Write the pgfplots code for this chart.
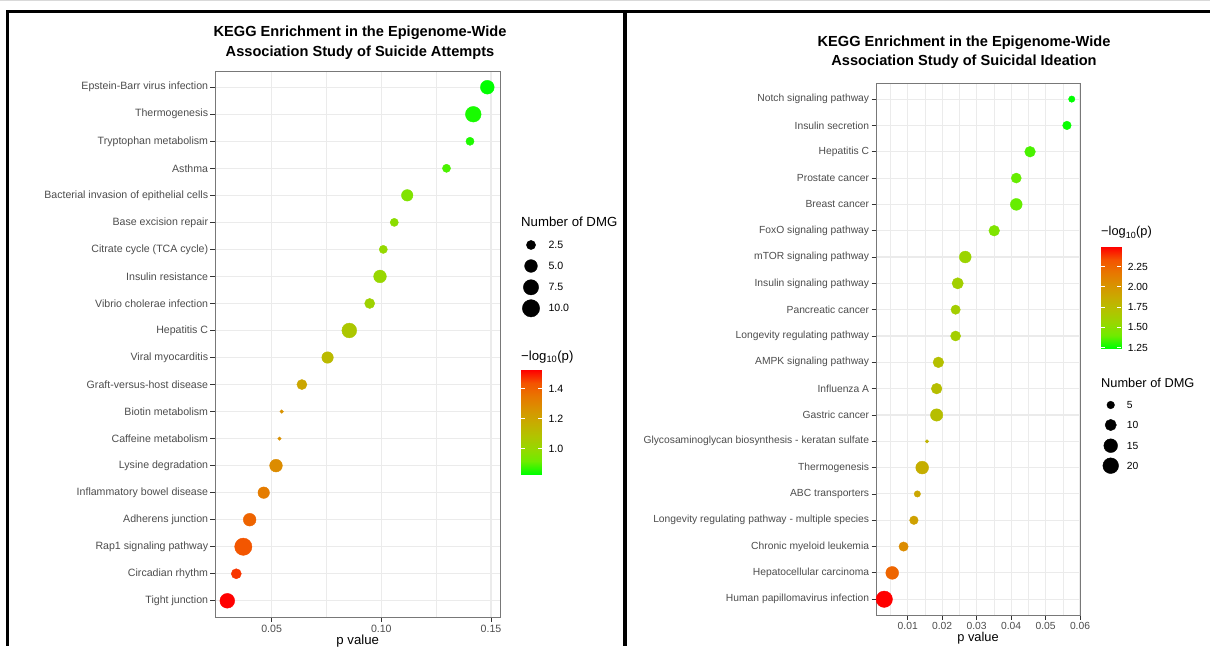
\documentclass[border=0pt]{standalone}
\usepackage{pgfplots}
\pgfplotsset{compat=1.18}
\usepackage{pgfplotstable}
\usepackage{fontspec}
\setmainfont{Liberation Sans}

\definecolor{grey92}{RGB}{235,235,235}
\definecolor{grey20}{RGB}{51,51,51}
\definecolor{grey30}{RGB}{77,77,77}
\definecolor{panelborder}{RGB}{120,120,120}

\pgfplotsset{
  colormap={ggr}{rgb255(0pt)=(0,255,0); rgb255(1pt)=(112,235,0); rgb255(2pt)=(152,215,0); rgb255(3pt)=(179,194,0); rgb255(4pt)=(200,171,0); rgb255(5pt)=(217,146,0); rgb255(6pt)=(232,118,0); rgb255(7pt)=(244,83,0); rgb255(8pt)=(255,0,0)},
  kegg/.style={
    scale only axis,
    y dir=reverse,
    ymin=0.4, ymax=20.6,
    ytick={1,...,20},
    axis line style={draw=panelborder, line width=0.8pt},
    tick style={grey20, line width=0.8pt},
    major tick length=4.5pt,
    minor tick length=0pt,
    tick align=outside,
    xtick pos=bottom, ytick pos=left,
    xmajorgrids, ymajorgrids, xminorgrids,
    major grid style={grey92, line width=1.1pt},
    minor grid style={grey92, line width=0.55pt},
    colormap name=ggr,
    scaled x ticks=false,
    /pgf/number format/assume math mode=true,
    xticklabel style={/pgf/number format/fixed, /pgf/number format/fixed zerofill, /pgf/number format/precision=2, text=grey30, anchor=base, inner sep=0pt},
    yticklabel style={text=grey30, anchor=east, inner sep=0pt},
  },
  cbar/.style={
    scale only axis,
    anchor=south west,
    axis line style={draw=none},
    xmin=0, xmax=1, xtick=\empty,
    yticklabel pos=right,
    ytick pos=both,
    tick align=inside,
    major tick length=4pt,
    tick style={white, line width=0.8pt},
    axis on top,
    colormap name=ggr,
    /pgf/number format/assume math mode=true,
    yticklabel style={text=black, anchor=west, inner sep=0pt, xshift=6.6pt, /pgf/number format/fixed, /pgf/number format/fixed zerofill},
  },
}

\pgfplotstableread[col sep=comma]{
name,p,n
Epstein-Barr virus infection,0.1483,6
Thermogenesis,0.1419,8
Tryptophan metabolism,0.1404,2
Asthma,0.1297,2
Bacterial invasion of epithelial cells,0.1118,4
Base excision repair,0.1059,2
Citrate cycle (TCA cycle),0.1009,2
Insulin resistance,0.0994,5
Vibrio cholerae infection,0.0947,3
Hepatitis C,0.0854,7
Viral myocarditis,0.0755,4
Graft-versus-host disease,0.0638,3
Biotin metabolism,0.0546,1
Caffeine metabolism,0.0536,1
Lysine degradation,0.0520,5
Inflammatory bowel disease,0.0464,4
Adherens junction,0.0400,5
Rap1 signaling pathway,0.0371,10
Circadian rhythm,0.0339,3
Tight junction,0.0298,7
}\leftdata

\pgfplotstableread[col sep=comma]{
name,p,n
Notch signaling pathway,0.0576,4
Insulin secretion,0.0562,6
Hepatitis C,0.0455,9
Prostate cancer,0.0415,8
Breast cancer,0.0415,11
FoxO signaling pathway,0.0351,9
mTOR signaling pathway,0.0267,11
Insulin signaling pathway,0.0245,10
Pancreatic cancer,0.0239,7
Longevity regulating pathway,0.0239,8
AMPK signaling pathway,0.0189,9
Influenza A,0.0184,9
Gastric cancer,0.0184,12
Glycosaminoglycan biosynthesis - keratan sulfate,0.0156,3
Thermogenesis,0.0142,13
ABC transporters,0.0128,4
Longevity regulating pathway - multiple species,0.0118,6
Chronic myeloid leukemia,0.0088,7
Hepatocellular carcinoma,0.0055,13
Human papillomavirus infection,0.0032,22
}\rightdata

\begin{document}
\begin{tikzpicture}
\useasboundingbox (0pt,0pt) rectangle (1210pt,646pt);
\clip (0pt,0pt) rectangle (1210pt,646pt);
\fill[white] (0pt,0pt) rectangle (1210pt,646pt);
% frame
\fill[gray!30] (0pt,644.5pt) rectangle (1210pt,646pt);
\fill[black] (6pt,633pt) rectangle (1210pt,636pt);
\fill[black] (6pt,0pt) rectangle (9pt,636pt);
\fill[black] (623.3pt,0pt) rectangle (627.3pt,636pt);

% ---------------- left panel ----------------
\begin{axis}[kegg,
  at={(215pt,29pt)}, anchor=south west,
  width=285.7pt, height=546pt,
  xmin=0.0242, xmax=0.1544,
  xtick={0.05,0.10,0.15}, minor xtick={0.075,0.125},
  yticklabels from table={\leftdata}{name},
  tick label style={font=\fontsize{10.6}{12}\selectfont},
  xticklabel shift=10.5pt,
  yticklabel shift=2.2pt,
  point meta min=0.829, point meta max=1.526,
]
\addplot[scatter, only marks, mark=*,
  scatter/use mapped color={draw=mapped color, fill=mapped color},
  point meta={-ln(\thisrow{p})/ln(10)},
  visualization depends on={\thisrow{n} \as \nval},
  scatter/@pre marker code/.append style={/tikz/mark size={(4+13.7*sqrt((\nval-1)/9))/2-0.2}},
] table[x=p, y expr=\coordindex+1] {\leftdata};
\end{axis}

% left colour bar
\begin{axis}[cbar, at={(520.7pt,172pt)}, width=21pt, height=104pt,
  ymin=0.829, ymax=1.526, point meta min=0.829, point meta max=1.526,
  ytick={1.0,1.2,1.4},
  yticklabel style={font=\fontsize{10.6}{12}\selectfont, /pgf/number format/precision=1}]
\addplot[surf, shader=interp, point meta=y, mesh/rows=2] coordinates {(0,0.829) (1,0.829) (0,1.526) (1,1.526)};
\end{axis}

% left size legend
\begin{axis}[at={(521pt,328pt)}, anchor=south west, scale only axis,
  width=20pt, height=83pt, xmin=0, xmax=20, ymin=235, ymax=318, y dir=reverse,
  hide axis, clip=false]
\addplot[scatter, only marks, mark=*, point meta=\thisrow{n},
  scatter/use mapped color={draw=black, fill=black},
  visualization depends on={\thisrow{n} \as \nval},
  scatter/@pre marker code/.append style={/tikz/mark size={(4+13.7*sqrt((\nval-1)/9))/2-0.2}},
] table[row sep=\\] {x y n\\ 10 245 2.5\\ 10 266 5\\ 10 287.3 7.5\\ 10 308.3 10\\};
\end{axis}

% left texts
\node[font=\fontsize{14.6}{17}\selectfont\bfseries, anchor=base] at (360pt,609pt) {KEGG Enrichment in the Epigenome-Wide};
\node[font=\fontsize{14.6}{17}\selectfont\bfseries, anchor=base] at (360pt,589pt) {Association Study of Suicide Attempts};
\node[font=\fontsize{13.2}{15}\selectfont, anchor=base west, inner sep=0pt] at (521pt,419.6pt) {Number of DMG};
\begin{scope}[every node/.style={font=\fontsize{10.6}{12}\selectfont, anchor=west, inner sep=0pt}]
\node at (548.3pt,401pt) {2.5};
\node at (548.3pt,380pt) {5.0};
\node at (548.3pt,358.7pt) {7.5};
\node at (548.3pt,337.7pt) {10.0};
\end{scope}
\node[font=\fontsize{13.2}{15}\selectfont, anchor=base west, inner sep=0pt] at (521pt,285.5pt) {−log\textsubscript{10}(p)};
\node[font=\fontsize{13.2}{15}\selectfont, anchor=base] at (357.7pt,1.5pt) {p value};

% ---------------- right panel ----------------
\begin{axis}[kegg,
  at={(876pt,31pt)}, anchor=south west,
  width=204.7pt, height=531.7pt,
  xmin=0.0008, xmax=0.0602,
  xtick={0.01,0.02,0.03,0.04,0.05,0.06}, minor xtick={0.005,0.015,0.025,0.035,0.045,0.055},
  yticklabels from table={\rightdata}{name},
  tick label style={font=\fontsize{10.3}{12}\selectfont},
  xticklabel shift=10pt,
  yticklabel shift=2.2pt,
  point meta min=1.2396, point meta max=2.4949,
]
\addplot[scatter, only marks, mark=*,
  scatter/use mapped color={draw=mapped color, fill=mapped color},
  point meta={-ln(\thisrow{p})/ln(10)},
  visualization depends on={\thisrow{n} \as \nval},
  scatter/@pre marker code/.append style={/tikz/mark size={(3.8+13*sqrt((\nval-3)/19))/2-0.2}},
] table[x=p, y expr=\coordindex+1] {\rightdata};
\end{axis}

% right colour bar
\begin{axis}[cbar, at={(1100.7pt,297.7pt)}, width=20.3pt, height=101.6pt,
  ymin=1.2396, ymax=2.4949, point meta min=1.2396, point meta max=2.4949,
  ytick={1.25,1.5,1.75,2.0,2.25},
  yticklabel style={font=\fontsize{10.3}{12}\selectfont, /pgf/number format/precision=2}]
\addplot[surf, shader=interp, point meta=y, mesh/rows=2] coordinates {(0,1.2396) (1,1.2396) (0,2.4949) (1,2.4949)};
\end{axis}

% right size legend
\begin{axis}[at={(1100.7pt,170pt)}, anchor=south west, scale only axis,
  width=20pt, height=81pt, xmin=0, xmax=20, ymin=395, ymax=476, y dir=reverse,
  hide axis, clip=false]
\addplot[scatter, only marks, mark=*, point meta=\thisrow{n},
  scatter/use mapped color={draw=black, fill=black},
  visualization depends on={\thisrow{n} \as \nval},
  scatter/@pre marker code/.append style={/tikz/mark size={(3.8+13*sqrt((\nval-3)/19))/2-0.2}},
] table[row sep=\\] {x y n\\ 10 405 5\\ 10 425 10\\ 10 445.7 15\\ 10 465.7 20\\};
\end{axis}

% right texts
\node[font=\fontsize{14.6}{17}\selectfont\bfseries, anchor=base] at (964pt,599.3pt) {KEGG Enrichment in the Epigenome-Wide};
\node[font=\fontsize{14.6}{17}\selectfont\bfseries, anchor=base] at (964pt,580.3pt) {Association Study of Suicidal Ideation};
\node[font=\fontsize{12.8}{15}\selectfont, anchor=base west, inner sep=0pt] at (1101pt,410pt) {−log\textsubscript{10}(p)};
\node[font=\fontsize{12.8}{15}\selectfont, anchor=base west, inner sep=0pt] at (1101pt,258.8pt) {Number of DMG};
\begin{scope}[every node/.style={font=\fontsize{10.3}{12}\selectfont, anchor=west, inner sep=0pt}]
\node at (1126.7pt,241pt) {5};
\node at (1126.7pt,221pt) {10};
\node at (1126.7pt,200.3pt) {15};
\node at (1126.7pt,180.3pt) {20};
\end{scope}
\node[font=\fontsize{12.8}{15}\selectfont, anchor=base] at (978pt,4.5pt) {p value};
\end{tikzpicture}
\end{document}
